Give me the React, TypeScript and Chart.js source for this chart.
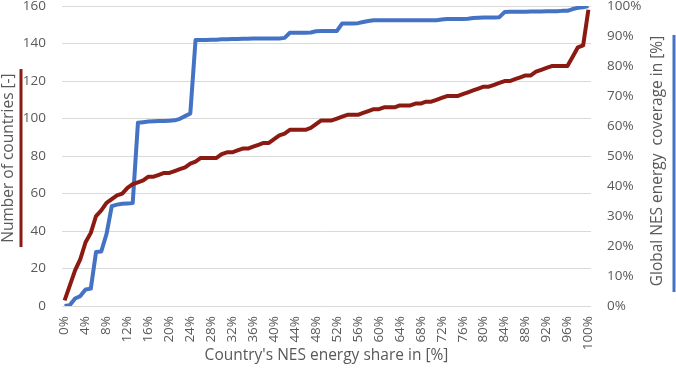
import React, { useEffect, useRef } from 'react';
import { Chart, registerables } from 'chart.js';

Chart.register(...registerables);

// Category axis: country's NES energy share, 0% .. 100% in steps of 1%
const shareLabels: string[] = Array.from({ length: 101 }, (_, i) => `${i}%`);

// Number of countries (left axis)
const countries: number[] = [
  3, 11, 19, 25, 34, 39, 48, 51, 55, 57,
  59, 60, 63, 65, 66, 67, 69, 69, 70, 71,
  71, 72, 73, 74, 76, 77, 79, 79, 79, 79,
  81, 82, 82, 83, 84, 84, 85, 86, 87, 87,
  89, 91, 92, 94, 94, 94, 94, 95, 97, 99,
  99, 99, 100, 101, 102, 102, 102, 103, 104, 105,
  105, 106, 106, 106, 107, 107, 107, 108, 108, 109,
  109, 110, 111, 112, 112, 112, 113, 114, 115, 116,
  117, 117, 118, 119, 120, 120, 121, 122, 123, 123,
  125, 126, 127, 128, 128, 128, 128, 133, 138, 139,
  158,
];

// Global NES energy coverage in % (right axis)
const coverage: number[] = [
  0, 0.3, 2.5, 3.3, 5.5, 5.8, 18, 18.2, 24, 33.3,
  33.8, 34.1, 34.2, 34.3, 61.1, 61.3, 61.5, 61.6, 61.7, 61.7,
  61.8, 61.9, 62.4, 63.3, 64.2, 88.7, 88.7, 88.7, 88.8, 88.8,
  88.9, 88.9, 89.0, 89.0, 89.1, 89.1, 89.2, 89.2, 89.2, 89.2,
  89.2, 89.2, 89.4, 91.1, 91.1, 91.1, 91.1, 91.2, 91.6, 91.7,
  91.7, 91.7, 91.7, 94.2, 94.2, 94.2, 94.3, 94.7, 95.0, 95.3,
  95.3, 95.3, 95.3, 95.3, 95.3, 95.3, 95.3, 95.3, 95.3, 95.3,
  95.3, 95.3, 95.5, 95.7, 95.7, 95.7, 95.7, 95.8, 96.0, 96.1,
  96.2, 96.2, 96.2, 96.3, 98.0, 98.1, 98.1, 98.1, 98.1, 98.2,
  98.2, 98.2, 98.3, 98.3, 98.3, 98.4, 98.4, 99.0, 99.4, 99.6,
  100,
];

const xTitle = "Country's NES energy share in [%]";
const leftTitle = 'Number of countries [-]';
const rightTitle = 'Global NES energy  coverage in [%]';

const RED = '#8b1a12';
const BLUE = '#4472c4';
const GREY = '#595959';
const GRID = '#d9d9d9';
const FONT = "'Open Sans', sans-serif";

const titlePlugin = {
  id: 'axisTitles',
  afterDraw(chart: any) {
    const { ctx, chartArea: a } = chart;
    const midY = (a.top + a.bottom) / 2;
    ctx.save();
    ctx.fillStyle = GREY;
    ctx.font = `15.5px ${FONT}`;
    ctx.textAlign = 'center';
    ctx.textBaseline = 'middle';
    ctx.fillText(xTitle, (a.left + a.right) / 2, a.bottom + 50);

    ctx.save();
    ctx.translate(a.left - 53, midY + 2);
    ctx.rotate(-Math.PI / 2);
    ctx.fillText(leftTitle, 0, 0);
    ctx.restore();

    ctx.save();
    ctx.translate(a.right + 67, midY + 5);
    ctx.rotate(-Math.PI / 2);
    ctx.fillText(rightTitle, 0, 0);
    ctx.restore();

    ctx.lineWidth = 3;
    ctx.strokeStyle = RED;
    ctx.beginPath();
    ctx.moveTo(a.left - 41, a.top + 63);
    ctx.lineTo(a.left - 41, a.top + 241);
    ctx.stroke();

    ctx.strokeStyle = BLUE;
    ctx.beginPath();
    ctx.moveTo(a.right + 83, a.top + 29);
    ctx.lineTo(a.right + 83, a.top + 286);
    ctx.stroke();
    ctx.restore();
  },
};

export default function App() {
  const ref = useRef<HTMLCanvasElement | null>(null);

  useEffect(() => {
    if (!ref.current) return;
    const chart = new Chart(ref.current, {
      type: 'line',
      data: {
        labels: shareLabels,
        datasets: [
          {
            label: leftTitle,
            data: countries,
            yAxisID: 'y',
            borderColor: RED,
            backgroundColor: RED,
            borderWidth: 4,
            pointRadius: 0,
            tension: 0,
            borderJoinStyle: 'round',
          },
          {
            label: rightTitle,
            data: coverage,
            yAxisID: 'y1',
            borderColor: BLUE,
            backgroundColor: BLUE,
            borderWidth: 4,
            pointRadius: 0,
            tension: 0,
            borderJoinStyle: 'round',
          },
        ],
      },
      options: {
        responsive: false,
        animation: false,
        layout: { padding: 0 },
        plugins: {
          legend: { display: false },
          tooltip: { enabled: false },
        },
        scales: {
          x: {
            type: 'category',
            offset: true,
            grid: { display: false, drawTicks: false },
            border: { display: false },
            ticks: {
              autoSkip: false,
              maxRotation: 90,
              minRotation: 90,
              padding: 10,
              color: GREY,
              font: { family: FONT, size: 13.5 },
              callback: (_v: any, i: number) => (i % 4 === 0 ? shareLabels[i] : ''),
            },
            afterFit: (s: any) => {
              s.height = 66;
            },
          },
          y: {
            position: 'left',
            min: 0,
            max: 160,
            grid: { color: GRID, lineWidth: 1, drawTicks: true, tickLength: 16, tickColor: 'rgba(0,0,0,0)' },
            border: { display: false },
            ticks: {
              stepSize: 20,
              padding: 0,
              color: GREY,
              font: { family: FONT, size: 13.5, lineHeight: 0.9 },
            },
            afterFit: (s: any) => {
              s.width = 62;
            },
          },
          y1: {
            position: 'right',
            min: 0,
            max: 100,
            grid: { display: true, color: 'rgba(0,0,0,0)', drawOnChartArea: false, drawTicks: true, tickLength: 16, tickColor: 'rgba(0,0,0,0)' },
            border: { display: false },
            ticks: {
              stepSize: 10,
              padding: 0,
              color: GREY,
              font: { family: FONT, size: 13.5, lineHeight: 0.9 },
              callback: (v: any) => `${v}%`,
            },
            afterFit: (s: any) => {
              s.width = 85;
            },
          },
        },
      },
      plugins: [titlePlugin],
    });
    return () => chart.destroy();
  }, []);

  return (
    <div style={{ position: 'fixed', left: 0, top: 0, width: 676, height: 372, background: '#fff' }}>
      <canvas ref={ref} width={676} height={372} style={{ display: 'block' }} />
    </div>
  );
}
